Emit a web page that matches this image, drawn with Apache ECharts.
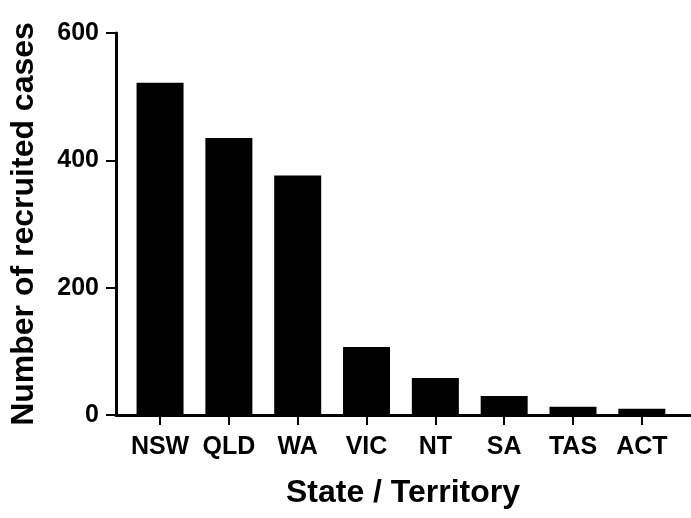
<!DOCTYPE html>
<html lang="en">
<head>
    <meta charset="UTF-8">
    <title>Recruited cases by state</title>
    <script src="https://cdn.jsdelivr.net/npm/echarts@6.0.0/dist/echarts.min.js"></script>
    <style>
        html, body { margin: 0; padding: 0; background: #fff; }
        #chart { width: 691px; height: 518px; }
    </style>
</head>
<body>
    <div id="chart"></div>
    <script>
        // Data
        const states = ['NSW', 'QLD', 'WA', 'VIC', 'NT', 'SA', 'TAS', 'ACT'];
        const cases = [522, 435, 376, 107, 58, 30, 13, 10];
        const yTicks = [0, 200, 400, 600];

        const positions = states.map((s, i) => i);
        const font = 'Liberation Sans, Arial, sans-serif';

        const chart = echarts.init(document.getElementById('chart'));

        chart.setOption({
            animation: false,
            grid: {
                left: 113,
                right: 1,
                top: 33,
                bottom: 103
            },
            xAxis: {
                type: 'value',
                min: -0.64,
                max: 7.7,
                name: 'State / Territory',
                nameLocation: 'middle',
                nameGap: 62,
                nameTextStyle: { fontFamily: font, fontWeight: 'bold', fontSize: 32, color: '#000' },
                splitLine: { show: false },
                axisLine: { show: true, lineStyle: { color: '#000', width: 3 } },
                axisTick: {
                    show: true,
                    customValues: positions,
                    length: 10,
                    lineStyle: { color: '#000', width: 2 }
                },
                axisLabel: {
                    customValues: positions,
                    margin: 20,
                    fontFamily: font,
                    fontWeight: 'bold',
                    fontSize: 25,
                    color: '#000',
                    formatter: v => states[Math.round(v)]
                }
            },
            yAxis: {
                type: 'value',
                min: 0,
                max: 600,
                interval: 200,
                name: 'Number of recruited cases',
                nameLocation: 'middle',
                nameGap: 76,
                nameTextStyle: { fontFamily: font, fontWeight: 'bold', fontSize: 32, color: '#000' },
                splitLine: { show: false },
                axisLine: { show: true, onZero: false, lineStyle: { color: '#000', width: 3 } },
                axisTick: { show: true, length: 10, lineStyle: { color: '#000', width: 2 } },
                axisLabel: {
                    margin: 17,
                    fontFamily: font,
                    fontWeight: 'bold',
                    fontSize: 25,
                    color: '#000',
                    customValues: yTicks
                }
            },
            series: [{
                type: 'bar',
                barWidth: 47,
                itemStyle: { color: '#000' },
                data: states.map((s, i) => [i, cases[i]])
            }]
        });
    </script>
</body>
</html>
